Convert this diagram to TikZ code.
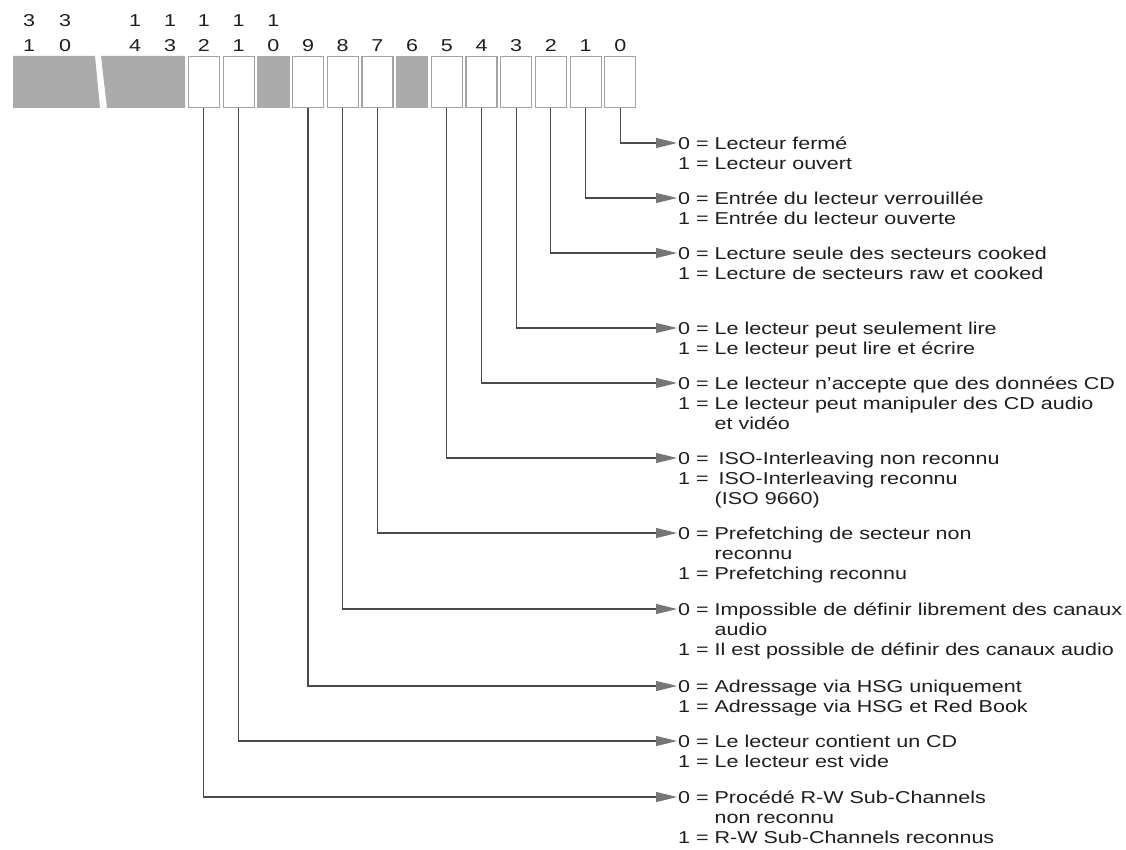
\documentclass[tikz,border=0pt]{standalone}
\usepackage{fontspec}
\setmainfont{Liberation Sans}[FakeStretch=1.25]
\usetikzlibrary{arrows.meta}

\newcommand\descfont{\fontsize{17.2}{20}\selectfont}
% one description: first column bit value, then "=", then the meaning
\newcommand\bitmeaning[1]{\begin{tabular}[t]{@{}l@{\ }l@{\ }l@{}}#1\end{tabular}}

\definecolor{ink}{HTML}{1E1E1E}
\definecolor{wire}{HTML}{4A4A4A}
\definecolor{tipgray}{HTML}{767676}
\definecolor{cellgray}{HTML}{ABABAB}
\definecolor{cellrule}{HTML}{A3A3A3}

\begin{document}
\begin{tikzpicture}[x=1pt,y=-1pt,
  cellw/.style={draw=cellrule,line width=1.2pt,fill=white,
    minimum width=31pt,minimum height=51pt,inner sep=0pt},
  cellg/.style={fill=cellgray,minimum width=32.5pt,minimum height=52pt,inner sep=0pt},
  bitnum/.style={font=\descfont,text=ink,inner sep=0pt,anchor=base},
  desc/.style={font=\descfont,text=ink,inner sep=0pt,anchor=base west},
  wirestyle/.style={draw=wire,line width=1.1pt,
    -{Triangle[length=21pt,width=10pt,color=tipgray]},shorten >=1pt},
]
\useasboundingbox (0,0) rectangle (1126,850);

% reserved upper bits, broken off between bit 30 and bit 14
\fill[cellgray] (13,56) -- (95,56) -- (100,108) -- (13,108) -- cycle;
\fill[cellgray] (101,56) -- (185,56) -- (185,108) -- (107,108) -- cycle;

% bits 12..0
\foreach \k in {0,1,2,3,4,5,7,8,9,11,12}
  \node[cellw] (b\k) at ({620.3-34.7*\k},82) {};
\foreach \k in {6,10}
  \node[cellg] (b\k) at ({620.3-34.7*\k},82) {};

% bit numbers
\node[bitnum] (t31) at (29,26.5) {3};
\node[bitnum] (u31) at (29,51.5) {1};
\node[bitnum] (t30) at (65,26.5) {3};
\node[bitnum] (u30) at (65,51.5) {0};
\node[bitnum] (t14) at (135,26.5) {1};
\node[bitnum] (u14) at (135,51.5) {4};
\node[bitnum] (t13) at (170,26.5) {1};
\node[bitnum] (u13) at (170,51.5) {3};
\foreach \k/\d in {12/2,11/1,10/0}
  \node[bitnum] (t\k) at ({620.3-34.7*\k},26.5) {1};
\foreach \k/\d in {12/2,11/1,10/0}
  \node[bitnum] (u\k) at ({620.3-34.7*\k},51.5) {\d};
\foreach \k in {0,...,9}
  \node[bitnum] (u\k) at ({620.3-34.7*\k},51.5) {\k};

% meanings
\node[desc] (d0) at (678,149.2) {\bitmeaning{0 & = & Lecteur fermé\\ 1 & = & Lecteur ouvert}};
\node[desc] (d1) at (678,204.2) {\bitmeaning{0 & = & Entrée du lecteur verrouillée\\ 1 & = & Entrée du lecteur ouverte}};
\node[desc] (d2) at (678,259.2) {\bitmeaning{0 & = & Lecture seule des secteurs cooked\\ 1 & = & Lecture de secteurs raw et cooked}};
\node[desc] (d3) at (678,334.2) {\bitmeaning{0 & = & Le lecteur peut seulement lire\\ 1 & = & Le lecteur peut lire et écrire}};
\node[desc] (d4) at (678,389.2) {\bitmeaning{0 & = & Le lecteur n'accepte que des données CD\\ 1 & = & Le lecteur peut manipuler des CD audio\\ & & et vidéo}};
\node[desc] (d5) at (678,464.2) {\bitmeaning{0 & = & \hspace{4pt}ISO-Interleaving non reconnu\\ 1 & = & \hspace{4pt}ISO-Interleaving reconnu\\ & & (ISO 9660)}};
\node[desc] (d7) at (678,539.2) {\bitmeaning{0 & = & Prefetching de secteur non\\ & & reconnu\\ 1 & = & Prefetching reconnu}};
\node[desc] (d8) at (678,615.2) {\bitmeaning{0 & = & Impossible de définir librement des canaux\\ & & audio\\ 1 & = & Il est possible de définir des canaux audio}};
\node[desc] (d9) at (678,692.2) {\bitmeaning{0 & = & Adressage via HSG uniquement\\ 1 & = & Adressage via HSG et Red Book}};
\node[desc] (d11) at (678,747.2) {\bitmeaning{0 & = & Le lecteur contient un CD\\ 1 & = & Le lecteur est vide}};
\node[desc] (d12) at (678,803.2) {\bitmeaning{0 & = & Procédé R-W Sub-Channels\\ & & non reconnu\\ 1 & = & R-W Sub-Channels reconnus}};

% connectors from each bit to its meaning
\foreach \k in {0,1,2,3,4,5,7,8,9,11,12}
  \draw[wirestyle] (b\k.south) |- ([yshift=6.2pt]d\k.base west);
\end{tikzpicture}
\end{document}
